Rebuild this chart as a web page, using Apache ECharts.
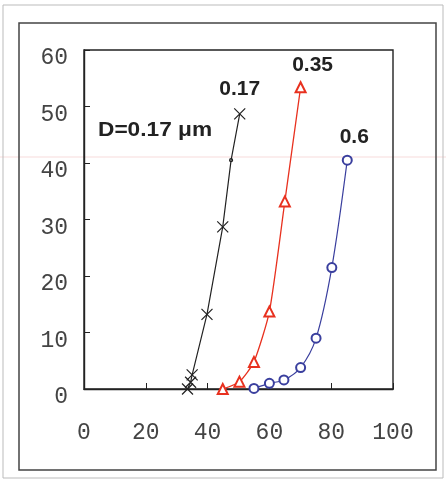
<!DOCTYPE html>
<html><head><meta charset="utf-8">
<script src="https://cdn.jsdelivr.net/npm/echarts@6/dist/echarts.min.js"></script>
<style>html,body{margin:0;padding:0;background:#fff}#c{width:446px;height:480px}</style>
</head><body><div id="c"></div>
<script>
const xTicks = [0, 20, 40, 60, 80, 100];
const yTicks = [0, 10, 20, 30, 40, 50, 60];
const seriesNames = ['0.17', '0.35', '0.6'];
const black017 = [[33.5, 0], [34.5, 1.2], [35, 2.5], [39.8, 13.2], [44.9, 28.7], [47.6, 40.5], [50.4, 48.7]];
const red035 = [[44.9, 0], [50.3, 1.3], [55, 4.8], [60, 13.7], [65, 33.2], [70.1, 53.4]];
const blue06 = [[55, 0.1], [60, 1.0], [64.7, 1.6], [70.1, 3.8], [75.1, 9.0], [80.2, 21.5], [85.2, 40.5]];
const annotation = 'D=0.17 \u03bcm';

const chart = echarts.init(document.getElementById('c'), null, {renderer: 'canvas'});
const monoFont = '"Liberation Mono","DejaVu Sans Mono",monospace';
const boldFont = '"Liberation Sans",Arial,sans-serif';

function withEndLabel(data, offset) {
  return data.map((d, i) => i === data.length - 1 ? {
    value: d,
    label: {show: true, formatter: '{a}', position: 'top', offset: offset,
      fontFamily: boldFont, fontWeight: 'bold', fontSize: 21, color: '#222'}
  } : d);
}
const blackData = withEndLabel(black017, [0, -3]);
blackData[5] = {value: black017[5], symbol: 'circle', symbolSize: 3};

chart.setOption({
  animation: false,
  backgroundColor: '#fff',
  grid: {left: 84, top: 50, right: 53, bottom: 91, show: true, borderColor: '#222', borderWidth: 1.4, backgroundColor: 'transparent'},
  xAxis: {
    type: 'value', min: xTicks[0], max: xTicks[xTicks.length - 1], interval: 20,
    axisLine: {show: true, onZero: false, lineStyle: {color: '#222', width: 1.4}},
    axisTick: {show: true, inside: true, length: 6, lineStyle: {color: '#222'}},
    axisLabel: {margin: 32, fontFamily: monoFont, fontSize: 23, color: '#444'},
    splitLine: {show: false}
  },
  yAxis: {
    type: 'value', min: yTicks[0], max: yTicks[yTicks.length - 1], interval: 10,
    axisLine: {show: true, lineStyle: {color: '#222', width: 1.4}},
    axisTick: {show: true, inside: true, length: 6, lineStyle: {color: '#222'}},
    axisLabel: {margin: 16, fontFamily: monoFont, fontSize: 23, color: '#444', verticalAlign: 'top', lineHeight: 16},
    splitLine: {show: false}
  },
  graphic: [
    {type: 'rect', shape: {x: 3, y: 5, width: 440, height: 473}, style: {fill: 'none', stroke: '#bbb', lineWidth: 1}, silent: true},
    {type: 'rect', shape: {x: 19, y: 23, width: 417, height: 447}, style: {fill: 'none', stroke: '#444', lineWidth: 1.5}, silent: true},
    {type: 'line', shape: {x1: 0, y1: 157, x2: 446, y2: 157}, style: {stroke: 'rgba(230,150,150,0.35)', lineWidth: 1}, silent: true, z: -1},
    {type: 'text', left: 98, top: 120, style: {text: annotation, font: 'bold 21px ' + boldFont, fill: '#222'}, scaleX: 1.08}
  ],
  series: [
    {name: seriesNames[0], type: 'line', data: blackData, symbol: 'path://M0,0L10,10M10,0L0,10', symbolSize: 11,
      lineStyle: {color: '#222', width: 1.2}, itemStyle: {color: 'rgba(0,0,0,0)', borderColor: '#222', borderWidth: 1.2}},
    {name: seriesNames[1], type: 'line', data: withEndLabel(red035, [12, -1]), symbol: 'emptyTriangle', symbolSize: 10, smooth: 0.2,
      lineStyle: {color: '#e8311f', width: 1.3}, itemStyle: {color: '#e8311f', borderWidth: 1.2}},
    {name: seriesNames[2], type: 'line', data: withEndLabel(blue06, [7, -2]), symbol: 'emptyCircle', symbolSize: 9, smooth: 0.3,
      lineStyle: {color: '#3a3f9e', width: 1.2}, itemStyle: {color: '#3a3f9e', borderWidth: 1.2}}
  ]
});
</script></body></html>
